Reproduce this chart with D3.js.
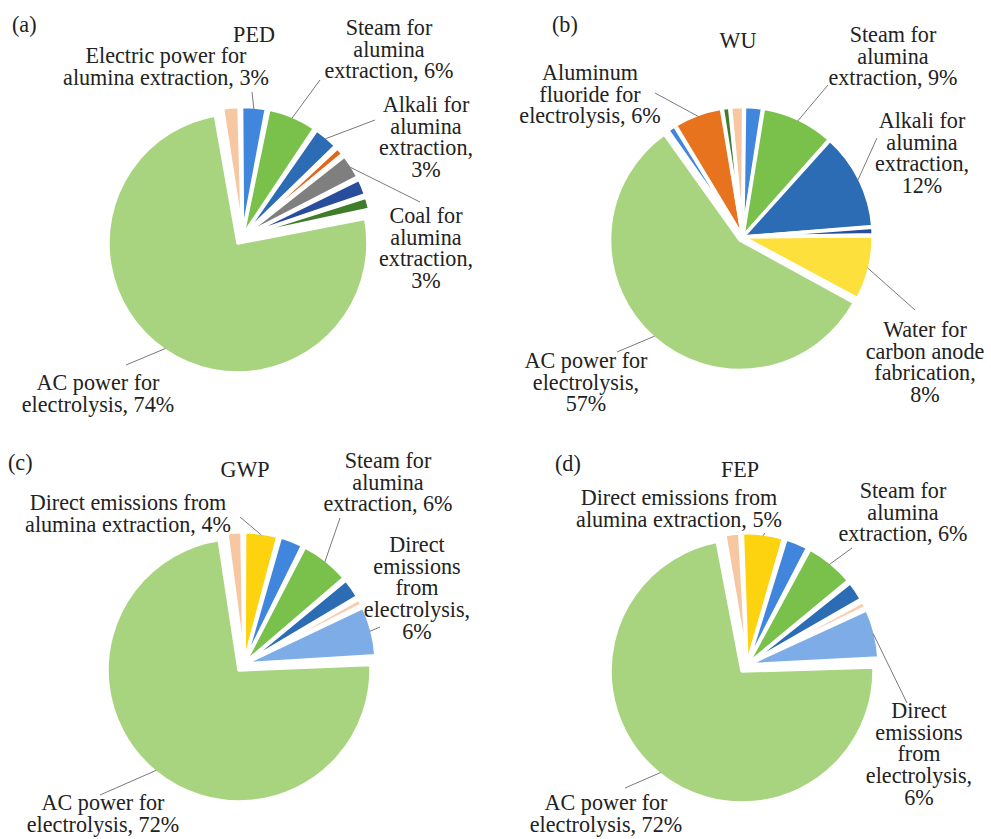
<!DOCTYPE html>
<html>
<head>
<meta charset="utf-8">
<script src="https://cdn.jsdelivr.net/npm/d3@7"></script>
<style>
  body { margin: 0; background: #fff; }
  svg text { font-family: "Liberation Serif", "Tinos", "Times New Roman", "Nimbus Roman", "FreeSerif", "DejaVu Serif", serif; fill: #222; }
</style>
</head>
<body>
<svg id="chart" width="991" height="839"></svg>
<script>
// ---- data (shares in %, clockwise, AC power slice first) ----
var pedCategories = ['AC power for electrolysis', 'Other input 1', 'Electric power for alumina extraction',
  'Steam for alumina extraction', 'Alkali for alumina extraction', 'Other input 2',
  'Coal for alumina extraction', 'Other input 3', 'Other input 4'];
var pedValues = [74, 2, 3, 6, 3, 1, 3, 2, 1.5];

var wuCategories = ['AC power for electrolysis', 'Other input 5', 'Aluminum fluoride for electrolysis',
  'Other input 4', 'Other input 1', 'Electric power for alumina extraction', 'Steam for alumina extraction',
  'Alkali for alumina extraction', 'Other input 3', 'Water for carbon anode fabrication'];
var wuValues = [57, 1, 6, 0.9, 1.6, 2.2, 9, 12, 0.9, 8];

var gwpCategories = ['AC power for electrolysis', 'Other input 1', 'Direct emissions from alumina extraction',
  'Electric power for alumina extraction', 'Steam for alumina extraction', 'Alkali for alumina extraction',
  'Other input 6', 'Direct emissions from electrolysis'];
var gwpValues = [72, 1.8, 4, 2.8, 6, 2.4, 0.8, 6];

var fepCategories = gwpCategories.slice();
var fepValues = [72, 1.8, 5, 2.8, 6, 2.4, 0.8, 6];

// ---- styles ----
var palette = {
  'AC power for electrolysis': '#a9d47f',
  'Electric power for alumina extraction': '#3f86dc',
  'Steam for alumina extraction': '#79c14b',
  'Alkali for alumina extraction': '#2c6cb4',
  'Coal for alumina extraction': '#7f7f7f',
  'Aluminum fluoride for electrolysis': '#e8731e',
  'Water for carbon anode fabrication': '#fde03c',
  'Direct emissions from alumina extraction': '#fdd20f',
  'Direct emissions from electrolysis': '#7eace6',
  'Other input 1': '#f6c7a0',
  'Other input 2': '#e2661a',
  'Other input 3': '#274d9c',
  'Other input 4': '#3f7d2a',
  'Other input 5': '#3f86dc',
  'Other input 6': '#f8cdb0'
};

var lineStep = 21.7;

// ---- layout ----
var panels = [
  {tag: '(a)', title: 'PED', cats: pedCategories, vals: pedValues,
   cx: 242.5, cy: 236.4, r: 130, explode: 8, pad: 0.02, acMid: 214.5,
   tagPos: [12, 32], titlePos: [254, 42],
   labels: [
     {i: 2, x: 166, y: 63, wrap: [3, 3], end: [252, 92]},
     {i: 3, x: 389, y: 35, wrap: [2, 1, 2], end: [320, 80]},
     {i: 4, x: 426, y: 112, wrap: [2, 1, 1, 1], end: [375, 120]},
     {i: 6, x: 426, y: 223, wrap: [2, 1, 1, 1], end: [420, 202]},
     {i: 0, x: 98, y: 390, wrap: [3, 2], end: [126, 365]}
   ]},
  {tag: '(b)', title: 'WU', cats: wuCategories, vals: wuValues,
   cx: 742.7, cy: 237, r: 130.5, explode: 4, pad: 0.007, acMid: 221.6,
   tagPos: [552, 32], titlePos: [738, 48],
   labels: [
     {i: 2, x: 590, y: 80, wrap: [1, 2, 2], end: [655, 93]},
     {i: 6, x: 893, y: 42, wrap: [2, 1, 2], end: [828, 85]},
     {i: 7, x: 922, y: 128, wrap: [2, 1, 1, 1], end: [877, 138]},
     {i: 9, x: 925, y: 337, wrap: [2, 2, 1, 1], end: [915, 310]},
     {i: 0, x: 586, y: 368, wrap: [3, 1, 1], end: [617, 352]}
   ]},
  {tag: '(c)', title: 'GWP', cats: gwpCategories, vals: gwpValues,
   cx: 244.1, cy: 663.8, r: 132, explode: 8, pad: 0.02, acMid: 219.5,
   tagPos: [8, 470], titlePos: [245, 477],
   labels: [
     {i: 2, x: 128, y: 510, wrap: [3, 3], end: [240, 517]},
     {i: 4, x: 388, y: 468, wrap: [2, 1, 2], end: [340, 518]},
     {i: 7, x: 417, y: 552, wrap: [1, 1, 1, 1, 1], end: [380, 627]},
     {i: 0, x: 103, y: 810, wrap: [3, 2], end: [100, 795]}
   ]},
  {tag: '(d)', title: 'FEP', cats: fepCategories, vals: fepValues,
   cx: 747, cy: 664.8, r: 132, explode: 8, pad: 0.02, acMid: 218.7,
   tagPos: [555, 471], titlePos: [740, 477],
   labels: [
     {i: 2, x: 679, y: 505, wrap: [3, 3], end: [765, 533]},
     {i: 4, x: 903, y: 498, wrap: [2, 1, 2], end: [852, 548]},
     {i: 7, x: 919, y: 718, wrap: [1, 1, 1, 1, 1], end: [907, 703]},
     {i: 0, x: 606, y: 810, wrap: [3, 2], end: [625, 788]}
   ]}
];

var svg = d3.select('#chart');

// pick a font size so a sample label is as wide as in the original (the serif font may vary)
var probe = svg.append('text').style('font-size', '22px').text('alumina extraction, 3%');
var probeW = probe.node().getComputedTextLength();
probe.remove();
var fontSize = Math.max(16, Math.min(24, 22 * 206 / probeW));
svg.style('font-size', fontSize + 'px');

function wrapText(str, counts) {
  var words = str.split(' '), out = [], k = 0;
  counts.forEach(function(n) {
    out.push(words.slice(k, k + n).join(' '));
    k += n;
  });
  return out;
}

panels.forEach(function(p) {
  var data = p.cats.map(function(c, i) { return {cat: c, value: p.vals[i]}; });

  // first pass only to get the AC slice span, then rotate so it sits where the original has it
  var pie = d3.pie().sort(null).value(function(d) { return d.value; }).padAngle(p.pad);
  var first = pie(data);
  var acSpan = first[0].endAngle - first[0].startAngle;
  var start = p.acMid * Math.PI / 180 - acSpan / 2;
  var arcs = pie.startAngle(start).endAngle(start + 2 * Math.PI)(data);

  var arc = d3.arc()
    .innerRadius(0)
    .outerRadius(p.r)
    .startAngle(function(d) { return d.startAngle + d.padAngle / 2; })
    .endAngle(function(d) { return d.endAngle - d.padAngle / 2; })
    .padAngle(0);

  // the big AC slice is pulled out a little
  function offset(d) {
    var m = (d.startAngle + d.endAngle) / 2;
    var e = d.index === 0 ? p.explode : 0;
    return [e * Math.sin(m), -e * Math.cos(m)];
  }

  var g = svg.append('g')
    .attr('transform', 'translate(' + p.cx + ',' + p.cy + ')');

  g.selectAll('path')
    .data(arcs)
    .enter().append('path')
    .attr('d', arc)
    .attr('transform', function(d) { return 'translate(' + offset(d) + ')'; })
    .attr('fill', function(d) { return palette[d.data.cat]; })
    .attr('stroke', '#fff')
    .attr('stroke-width', 3.5)
    .attr('stroke-linejoin', 'round');

  // leader lines + data labels
  p.labels.forEach(function(l) {
    var d = arcs[l.i];
    var m = (d.startAngle + d.endAngle) / 2;
    var o = offset(d);
    var x0 = p.cx + o[0] + (p.r - 2) * Math.sin(m);
    var y0 = p.cy + o[1] - (p.r - 2) * Math.cos(m);

    svg.append('line')
      .attr('x1', x0).attr('y1', y0)
      .attr('x2', l.end[0]).attr('y2', l.end[1])
      .attr('stroke', '#7a7a7a')
      .attr('stroke-width', 1);

    var lines = wrapText(d.data.cat + ', ' + d.data.value + '%', l.wrap);
    var t = svg.append('text').attr('text-anchor', 'middle');
    lines.forEach(function(s, j) {
      t.append('tspan')
        .attr('x', l.x)
        .attr('y', l.y + j * lineStep)
        .text(s);
    });
  });

  svg.append('text')
    .attr('x', p.tagPos[0]).attr('y', p.tagPos[1])
    .text(p.tag);

  svg.append('text')
    .attr('x', p.titlePos[0]).attr('y', p.titlePos[1])
    .attr('text-anchor', 'middle')
    .text(p.title);
});
</script>
</body>
</html>
